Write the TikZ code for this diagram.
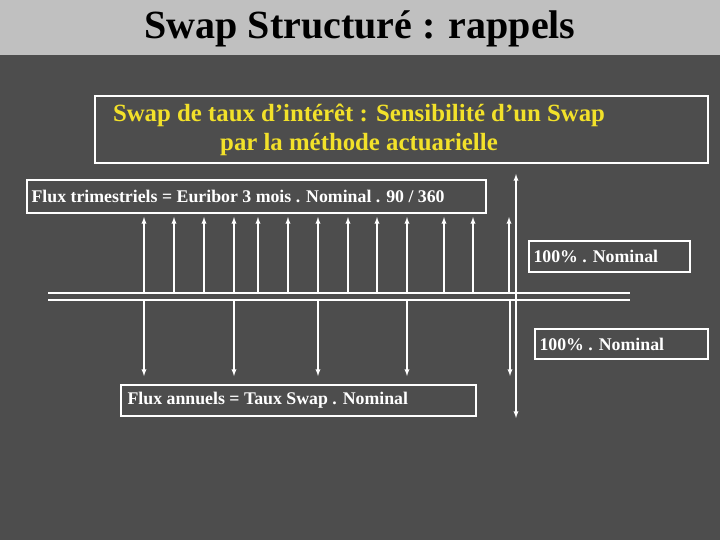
\documentclass[tikz,border=0pt]{standalone}
\usepackage{fontspec}
\setmainfont{Liberation Serif}
\definecolor{bg}{HTML}{4D4D4D}
\definecolor{band}{HTML}{C0C0C0}
\definecolor{ttl}{HTML}{F2E12A}
\begin{document}
\begin{tikzpicture}[x=1pt,y=-1pt,
  box/.style={draw=white,line width=2.5pt,inner sep=0pt},
  lbl/.style={text=white,font=\bfseries\fontsize{17.8}{20}\selectfont,anchor=west},
  arr/.style={white,line width=1.3pt,-latex}]
\fill[bg] (0,0) rectangle (720,540);
\fill[band] (0,0) rectangle (720,55);
\useasboundingbox (0,0) rectangle (720,540);
\node (title) at (360,29) {\bfseries\fontsize{40}{44}\selectfont Swap Structuré : rappels};
\draw[box] (95,96) rectangle (708,163);
\node[text=ttl,font=\bfseries\fontsize{24.8}{29}\selectfont,align=center] (sub) at (359,130) {Swap de taux d’intérêt : Sensibilité d’un Swap\\par la méthode actuarielle};
\draw[box] (27,180) rectangle (486,213);
\node[lbl] (ft) at (28,196) {Flux trimestriels = Euribor 3 mois . Nominal . 90 / 360};
\draw[box] (529,241) rectangle (690,272);
\node[lbl] (n1) at (530,256) {100\% . Nominal};
\draw[box] (535,329) rectangle (708,359);
\node[lbl] (n2) at (536,344) {100\% . Nominal};
\draw[box] (121,385) rectangle (476,416);
\node[lbl] (fa) at (124,400) {Flux annuels = Taux Swap . Nominal};
\draw[white,line width=1.3pt] (48,293) coordinate (l1) -- (630,293) coordinate (l2);
\draw[white,line width=1.3pt] (48,300) coordinate (m1) -- (630,300) coordinate (m2);
\foreach \x in {144,174,204,234,258,288,318,348,377,407,444,473,509}
  \draw[arr] (\x,293) -- (\x,217);
\foreach \x in {144,234,318,407,510}
  \draw[arr] (\x,300) -- (\x,376);
\draw[white,line width=1.3pt,latex-latex] (516,174) coordinate (t) -- (516,418) coordinate (b);
\end{tikzpicture}
\end{document}
